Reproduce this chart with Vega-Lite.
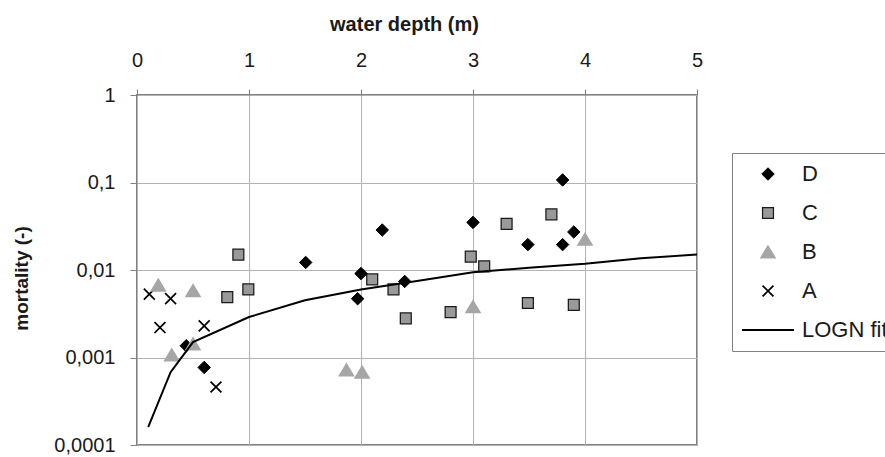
{
  "$schema": "https://vega.github.io/schema/vega-lite/v6.json",
  "autosize": {"type": "none"},
  "width": 560,
  "height": 350,
  "padding": {"left": 137, "top": 95, "right": 188, "bottom": 12},
  "background": "#ffffff",
  "config": {
    "font": "Liberation Sans",
    "view": {"stroke": "#808080", "strokeWidth": 2},
    "axis": {
      "labelFont": "Liberation Sans",
      "titleFont": "Liberation Sans",
      "labelColor": "#1a1a1a",
      "titleColor": "#1a1a1a",
      "gridColor": "#b3b3b3",
      "gridWidth": 1,
      "tickColor": "#808080",
      "domain": false
    },
    "legend": {
      "labelFont": "Liberation Sans",
      "labelColor": "#1a1a1a"
    }
  },
  "datasets": {
    "obs": [
      {"depth": 0.11, "mortality": 0.0053, "series": "A"},
      {"depth": 0.205, "mortality": 0.0022, "series": "A"},
      {"depth": 0.30, "mortality": 0.0047, "series": "A"},
      {"depth": 0.60, "mortality": 0.0023, "series": "A"},
      {"depth": 0.705, "mortality": 0.00046, "series": "A"},
      {"depth": 0.44, "mortality": 0.00136, "series": "D"},
      {"depth": 0.19, "mortality": 0.0067, "series": "B"},
      {"depth": 0.31, "mortality": 0.00107, "series": "B"},
      {"depth": 0.50, "mortality": 0.0058, "series": "B"},
      {"depth": 0.50, "mortality": 0.00143, "series": "B"},
      {"depth": 1.87, "mortality": 0.00072, "series": "B"},
      {"depth": 2.01, "mortality": 0.00068, "series": "B"},
      {"depth": 3.0, "mortality": 0.0038, "series": "B"},
      {"depth": 4.0, "mortality": 0.0224, "series": "B"},
      {"depth": 0.905, "mortality": 0.015, "series": "C"},
      {"depth": 0.806, "mortality": 0.0049, "series": "C"},
      {"depth": 0.994, "mortality": 0.006, "series": "C"},
      {"depth": 2.10, "mortality": 0.0078, "series": "C"},
      {"depth": 2.29, "mortality": 0.006, "series": "C"},
      {"depth": 2.40, "mortality": 0.0028, "series": "C"},
      {"depth": 2.80, "mortality": 0.0033, "series": "C"},
      {"depth": 2.98, "mortality": 0.0142, "series": "C"},
      {"depth": 3.10, "mortality": 0.011, "series": "C"},
      {"depth": 3.30, "mortality": 0.0336, "series": "C"},
      {"depth": 3.49, "mortality": 0.0042, "series": "C"},
      {"depth": 3.70, "mortality": 0.0433, "series": "C"},
      {"depth": 3.90, "mortality": 0.004, "series": "C"},
      {"depth": 0.60, "mortality": 0.00077, "series": "D"},
      {"depth": 1.506, "mortality": 0.0122, "series": "D"},
      {"depth": 2.0, "mortality": 0.0091, "series": "D"},
      {"depth": 1.97, "mortality": 0.0047, "series": "D"},
      {"depth": 2.19, "mortality": 0.0286, "series": "D"},
      {"depth": 2.39, "mortality": 0.0074, "series": "D"},
      {"depth": 3.0, "mortality": 0.035, "series": "D"},
      {"depth": 3.49, "mortality": 0.0195, "series": "D"},
      {"depth": 3.80, "mortality": 0.107, "series": "D"},
      {"depth": 3.80, "mortality": 0.0195, "series": "D"},
      {"depth": 3.90, "mortality": 0.0272, "series": "D"}
    ],
    "fit": [
      {"depth": 0.1, "mortality": 0.00016, "series": "LOGN fit"},
      {"depth": 0.3, "mortality": 0.00068, "series": "LOGN fit"},
      {"depth": 0.5, "mortality": 0.0015, "series": "LOGN fit"},
      {"depth": 1.0, "mortality": 0.0029, "series": "LOGN fit"},
      {"depth": 1.5, "mortality": 0.0045, "series": "LOGN fit"},
      {"depth": 2.0, "mortality": 0.006, "series": "LOGN fit"},
      {"depth": 2.5, "mortality": 0.0075, "series": "LOGN fit"},
      {"depth": 3.0, "mortality": 0.0094, "series": "LOGN fit"},
      {"depth": 3.5, "mortality": 0.0106, "series": "LOGN fit"},
      {"depth": 4.0, "mortality": 0.0118, "series": "LOGN fit"},
      {"depth": 4.5, "mortality": 0.0136, "series": "LOGN fit"},
      {"depth": 5.0, "mortality": 0.015, "series": "LOGN fit"}
    ]
  },
  "encoding": {
    "x": {
      "field": "depth",
      "type": "quantitative",
      "scale": {"domain": [0, 5], "nice": false, "zero": false},
      "axis": {
        "orient": "top",
        "title": "water depth (m)",
        "values": [0, 1, 2, 3, 4, 5],
        "format": "d",
        "labelFontSize": 20,
        "titleFontSize": 20,
        "titleFontWeight": "bold",
        "tickSize": 6,
        "labelPadding": 19,
        "titlePadding": 16,
        "titleX": 267,
        "labelFlush": false
      }
    },
    "y": {
      "field": "mortality",
      "type": "quantitative",
      "scale": {"type": "log", "domain": [0.0001, 1], "nice": false},
      "axis": {
        "title": "mortality (-)",
        "values": [0.0001, 0.001, 0.01, 0.1, 1],
        "labelExpr": "replace(toString(datum.value), '.', ',')",
        "labelFontSize": 20,
        "titleFontSize": 19,
        "titleFontWeight": "bold",
        "tickSize": 7,
        "labelPadding": 15,
        "titlePadding": 22,
        "titleY": 183,
        "labelFlush": false
      }
    }
  },
  "layer": [
    {
      "data": {"name": "obs"},
      "mark": {"type": "point", "opacity": 1, "filled": true, "size": 2704},
      "encoding": {
        "shape": {
          "field": "series",
          "type": "nominal",
          "scale": {
            "domain": ["D", "C", "B", "A", "LOGN fit"],
            "range": [
              "M0,-0.24L0.24,0L0,0.24L-0.24,0Z",
              "M-0.21,-0.21H0.21V0.21H-0.21Z",
              "M0,-0.23L0.27,0.22L-0.27,0.22Z",
              "M-0.21,-0.21L0.21,0.21M0.21,-0.21L-0.21,0.21",
              "M-1,0H1"
            ]
          },
          "legend": {
            "title": null,
            "orient": "none",
            "legendX": 595,
            "legendY": 58,
            "padding": 9,
            "strokeColor": "#808080",
            "fillColor": "#ffffff",
            "labelFontSize": 22,
            "labelOffset": 7,
            "rowPadding": 15,
            "symbolSize": 2704,
            "clipHeight": 24
          }
        },
        "fill": {
          "field": "series",
          "type": "nominal",
          "scale": {
            "domain": ["D", "C", "B", "A", "LOGN fit"],
            "range": ["#000000", "#999999", "#a6a6a6", "transparent", "transparent"]
          }
        },
        "stroke": {
          "field": "series",
          "type": "nominal",
          "scale": {
            "domain": ["D", "C", "B", "A", "LOGN fit"],
            "range": ["#000000", "#1a1a1a", "#a6a6a6", "#000000", "#000000"]
          }
        },
        "strokeWidth": {
          "field": "series",
          "type": "nominal",
          "scale": {
            "domain": ["D", "C", "B", "A", "LOGN fit"],
            "range": [1, 2, 0, 2, 2]
          }
        }
      }
    },
    {
      "data": {"name": "fit"},
      "mark": {"type": "line"},
      "encoding": {
        "stroke": {"field": "series", "type": "nominal"},
        "strokeWidth": {"field": "series", "type": "nominal"}
      }
    }
  ]
}
